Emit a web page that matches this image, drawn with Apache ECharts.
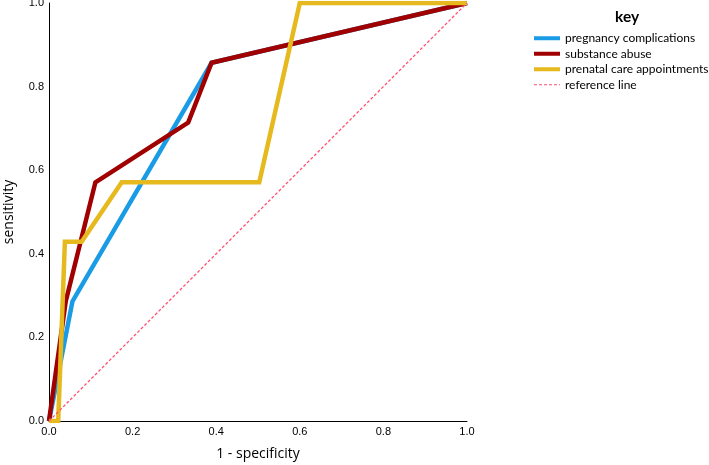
<!DOCTYPE html>
<html>
<head>
<meta charset="utf-8">
<script src="https://cdn.jsdelivr.net/npm/echarts@6/dist/echarts.min.js"></script>
<style>html,body{margin:0;padding:0;background:#fff}#c{width:709px;height:465px}</style>
</head>
<body>
<div id="c"></div>
<script>
var seriesNames = ['pregnancy complications', 'substance abuse', 'prenatal care appointments', 'reference line'];
var pregnancyPts = [[0, 0], [0.056, 0.286], [0.389, 0.857], [1, 1]];
var substancePts = [[0, 0], [0.04, 0.286], [0.111, 0.571], [0.333, 0.714], [0.389, 0.857], [1, 1]];
var prenatalPts = [[0, 0], [0.022, 0], [0.038, 0.429], [0.078, 0.429], [0.174, 0.571], [0.503, 0.571], [0.6, 1], [1, 1]];
var referencePts = [[0, 0], [1, 1]];
var tickValues = [0, 0.2, 0.4, 0.6, 0.8, 1.0];

var colors = ['#1a9be6', '#a00000', '#e6b91e', '#ff5070'];
var chart = echarts.init(document.getElementById('c'));
var lab = {fontFamily: 'Liberation Sans', fontSize: 11, color: '#000'};
function mk(name, data, color, width, type) {
  return {
    name: name, type: 'line', data: data, symbol: 'none', animation: false,
    lineStyle: {color: color, width: width, type: type || 'solid', cap: 'butt', join: 'miter'},
    itemStyle: {color: color}
  };
}
chart.setOption({
  animation: false,
  title: {text: 'key', left: 610, top: 4, textStyle: {fontFamily: 'Lato', fontWeight: 'bold', fontSize: 15.5, color: '#000'}},
  legend: {
    orient: 'vertical', left: 527, top: 26, itemWidth: 26, itemHeight: 1, itemGap: 1,
    itemStyle: {opacity: 0},
    data: [
      {name: seriesNames[0], lineStyle: {width: 4}},
      {name: seriesNames[1], lineStyle: {width: 4}},
      {name: seriesNames[2], lineStyle: {width: 4}},
      {name: seriesNames[3], lineStyle: {width: 1, type: [3, 2]}}
    ],
    textStyle: {fontFamily: 'Lato', fontSize: 12, lineHeight: 14.5, color: '#000'}
  },
  grid: {left: 49, top: 3, width: 418, height: 418, containLabel: false, outerBoundsMode: 'none'},
  xAxis: {
    type: 'value', min: 0, max: 1, interval: 0.2,
    name: '1 - specificity', nameLocation: 'middle', nameGap: 26,
    nameTextStyle: {fontFamily: 'Open Sans', fontSize: 14, color: '#000'},
    axisLine: {show: true, lineStyle: {color: '#000', width: 1}},
    axisTick: {show: false}, splitLine: {show: false},
    axisLabel: Object.assign({margin: 5, formatter: function (v) { return v.toFixed(1); }, showMaxLabel: true}, lab)
  },
  yAxis: {
    type: 'value', min: 0, max: 1, interval: 0.2,
    name: 'sensitivity', nameLocation: 'middle', nameGap: 33,
    nameTextStyle: {fontFamily: 'Open Sans', fontSize: 14, color: '#000'},
    axisLine: {show: true, lineStyle: {color: '#000', width: 1}},
    axisTick: {show: false}, splitLine: {show: false},
    axisLabel: Object.assign({margin: 5, formatter: function (v) { return v.toFixed(1); }}, lab)
  },
  series: [
    mk(seriesNames[0], pregnancyPts, colors[0], 4.5),
    mk(seriesNames[1], substancePts, colors[1], 4.5),
    mk(seriesNames[2], prenatalPts, colors[2], 4.5),
    mk(seriesNames[3], referencePts, colors[3], 1.3, [3, 2])
  ]
});
</script>
</body>
</html>
